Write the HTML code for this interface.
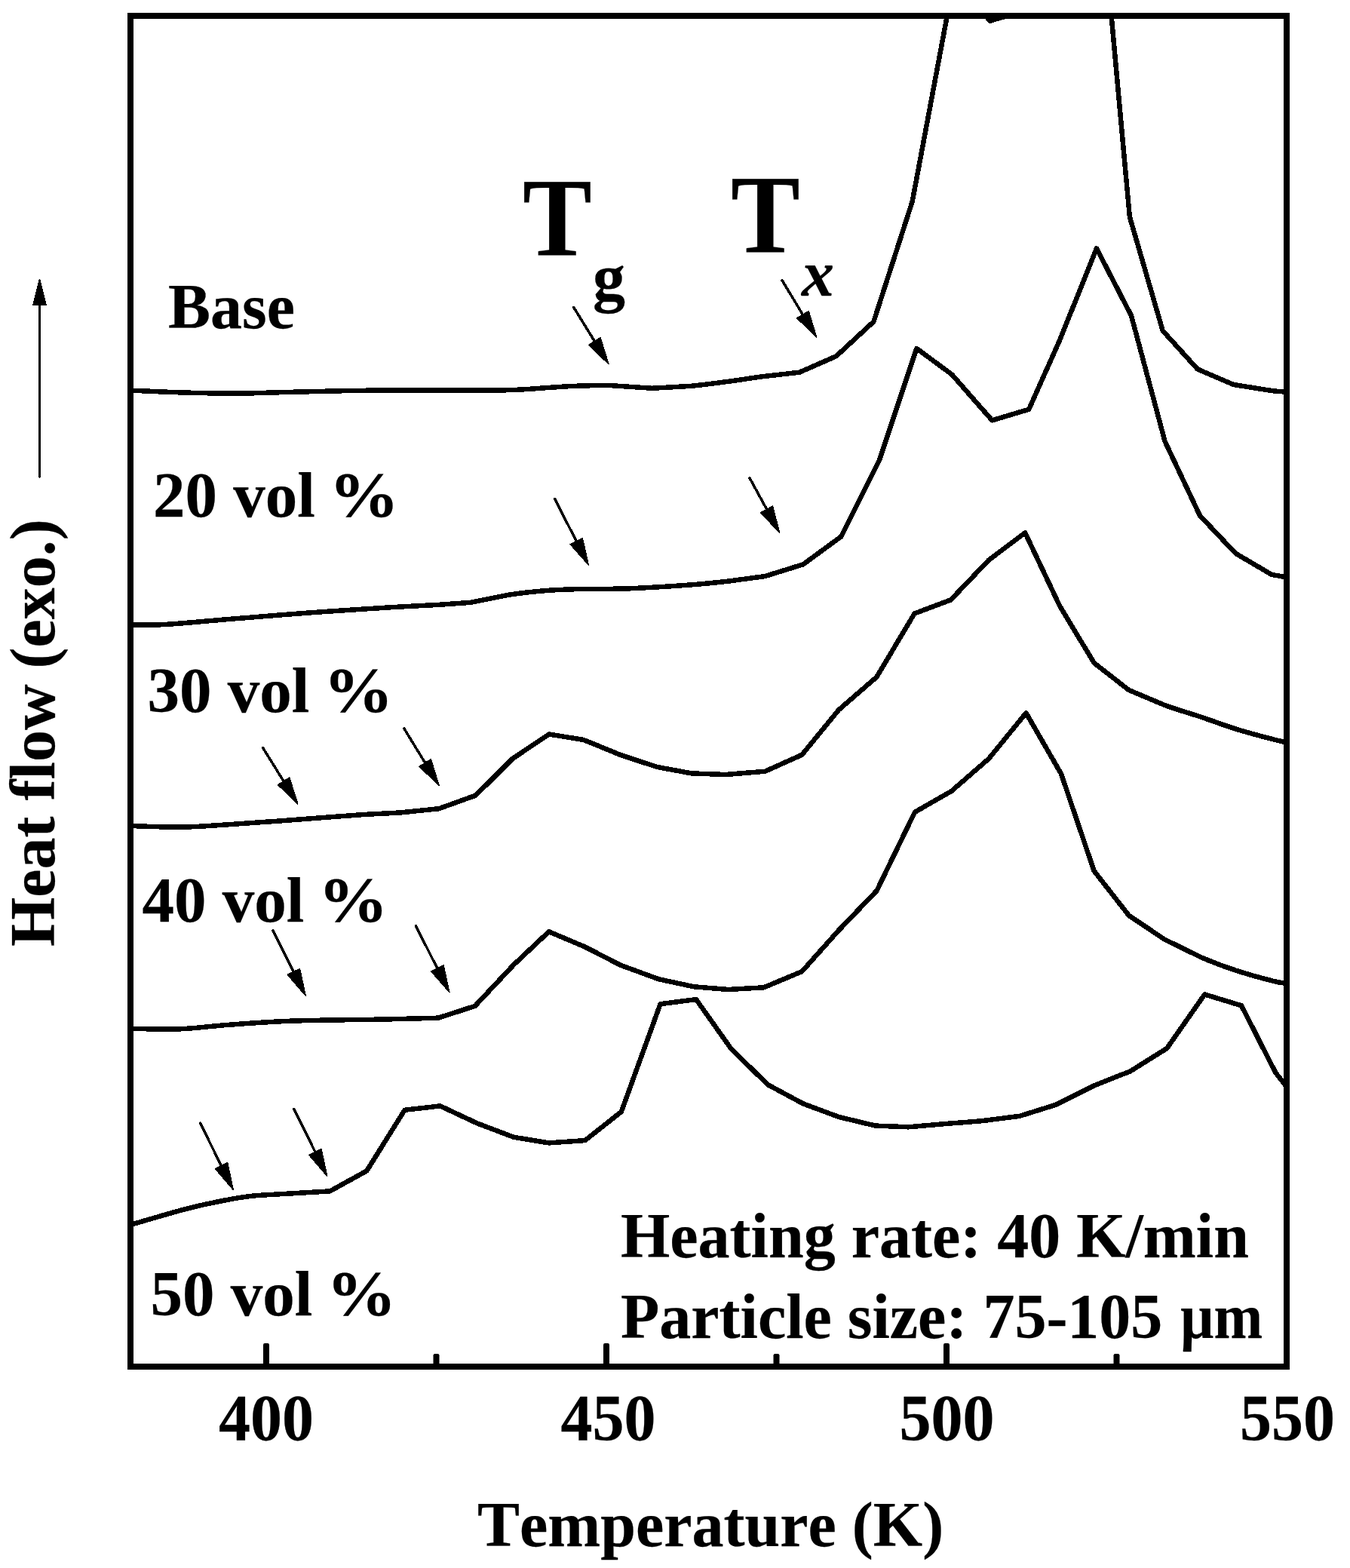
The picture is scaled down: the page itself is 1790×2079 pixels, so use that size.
<!DOCTYPE html>
<html lang="en">
<head>
<meta charset="utf-8">
<title>Heat flow (exo.) vs Temperature (K)</title>
<style>
html,body{margin:0;padding:0;background:#fff;}
body{width:1790px;height:2079px;overflow:hidden;}
svg{display:block;}
text{font-family:"Liberation Serif","DejaVu Serif",serif;font-weight:bold;fill:#000;font-kerning:none;font-variant-ligatures:none;stroke:#000;stroke-width:0.25px;stroke-linejoin:round;}
.curves path{shape-rendering:crispEdges;fill:none;stroke:#000;stroke-width:6.5;stroke-linejoin:round;stroke-linecap:butt;}
.arrows,.yarrow{shape-rendering:crispEdges;}
.arrows polygon,.yarrow polygon{fill:#000;stroke:#000;}
.arrows line,.yarrow line{stroke:#000;}
</style>
</head>
<body>
<svg width="1790" height="2079" viewBox="0 0 1790 2079">
<rect x="0" y="0" width="1790" height="2079" fill="#fff"/>
<defs><clipPath id="plot"><rect x="173" y="21" width="1533" height="1791"/></clipPath></defs>
<g class="curves" clip-path="url(#plot)">
<path id="curve-base" d="M173.0,517.6 C183.7,518.0 214.0,519.6 237.0,520.3 C260.0,521.0 288.5,521.7 311.0,521.7 C333.5,521.7 347.2,520.8 372.0,520.2 C396.8,519.6 437.7,518.5 460.0,518.1 C482.3,517.7 485.5,517.7 506.0,517.6 C526.5,517.5 554.9,517.5 583.0,517.4 C611.1,517.3 650.5,517.8 674.5,517.2 C698.5,516.6 712.7,514.9 727.0,514.0 C741.3,513.1 746.5,512.4 760.5,511.9 C774.5,511.4 793.6,510.7 811.0,511.2 L864.8,514.8 L915.3,511.9 C932.1,510.4 949.5,507.9 965.7,505.8 C982.0,503.7 997.1,501.0 1012.8,499.0 L1060.0,493.7 L1108.7,472.3 L1158.4,426.5 L1209.6,267.4 L1266.0,-33.0 L1312.4,27.8 L1361.0,13.5 L1451.6,-220.0 L1497.9,287.6 L1541.7,438.5 L1587.9,489.5 L1635.7,510.0 L1686.0,518.0 C1697.7,519.6 1702.7,519.3 1706.0,519.6"/>
<path id="curve-c20" d="M173.0,828.6 C180.9,828.5 198.6,829.2 220.5,827.9 C242.4,826.6 273.7,823.4 304.5,820.9 C335.3,818.4 371.9,815.3 405.5,812.8 C439.1,810.3 476.7,807.9 506.4,806.0 C536.1,804.1 564.1,802.9 583.7,801.7 L624.0,798.8 L674.5,788.7 C691.3,786.1 709.1,784.3 725.0,783.0 C740.9,781.7 751.8,781.5 770.0,781.0 C788.2,780.5 809.7,781.3 834.5,780.3 C859.3,779.3 896.2,776.9 918.6,775.2 C941.0,773.5 953.0,772.1 969.0,770.2 L1014.5,764.0 L1065.0,748.3 L1115.4,711.3 L1165.9,610.4 L1215.4,462.0 L1262.3,496.7 L1315.5,557.4 L1364.2,542.8 L1405.3,450.6 L1454.0,329.4 L1500.0,418.5 L1544.6,585.2 L1591.0,683.7 L1638.4,733.8 L1686.0,761.8 L1706.0,765.5"/>
<path id="curve-c30" d="M173.0,1095.0 C183.7,1095.3 218.2,1096.8 237.3,1096.7 C256.4,1096.6 265.3,1095.7 287.7,1094.3 C310.1,1092.9 341.0,1090.7 371.8,1088.4 C402.6,1086.1 445.8,1082.6 472.7,1080.7 C499.6,1078.8 515.1,1078.6 533.3,1077.2 L582.0,1072.2 L630.8,1054.6 L679.6,1005.9 L728.1,973.5 L774.0,981.0 L822.8,1001.0 L871.5,1017.0 L917.0,1025.4 L962.4,1027.0 L1014.5,1022.7 L1063.3,1000.8 L1112.0,941.3 L1162.5,897.5 L1212.5,813.5 L1260.6,795.4 L1311.0,742.6 L1359.2,706.3 L1405.3,803.8 L1450.7,879.0 L1496.8,915.0 L1544.9,935.2 C1560.8,941.1 1576.2,945.2 1592.0,950.5 C1607.8,955.8 1624.2,962.1 1640.0,967.0 C1655.8,971.9 1676.0,977.1 1687.0,980.0 C1698.0,982.9 1702.8,983.8 1706.0,984.5"/>
<path id="curve-c40" d="M173.0,1363.8 C183.7,1363.9 215.4,1365.2 237.3,1364.4 C259.2,1363.6 279.3,1360.5 304.5,1358.7 C329.7,1356.9 355.0,1354.8 388.6,1353.6 C422.2,1352.4 474.3,1352.2 506.4,1351.6 L581.0,1349.7 L629.8,1333.9 L681.3,1279.0 L727.8,1235.3 L775.7,1255.5 L822.8,1279.7 L873.2,1298.2 L920.3,1308.3 L965.7,1312.0 L1012.8,1309.3 L1063.3,1288.1 L1112.0,1233.6 L1162.5,1181.0 L1213.0,1076.8 L1261.5,1049.0 L1311.1,1005.9 L1360.5,945.3 L1407.0,1026.0 L1450.7,1154.9 L1496.8,1213.8 L1544.0,1245.5 L1592.0,1269.0 C1607.8,1275.9 1623.0,1281.5 1639.0,1286.8 C1655.0,1292.1 1676.6,1297.8 1687.8,1300.7 C1699.0,1303.6 1703.0,1303.4 1706.0,1303.9"/>
<path id="curve-c50" d="M173.0,1624.0 C184.8,1620.6 224.3,1608.8 244.0,1603.6 C263.7,1598.4 274.8,1596.0 291.0,1592.9 C307.2,1589.8 317.1,1587.2 341.5,1585.0 L437.4,1579.4 L486.2,1552.5 L536.6,1471.8 L583.7,1466.4 L632.5,1489.3 L681.3,1507.8 L727.7,1515.4 L775.7,1512.1 L823.8,1474.1 L875.6,1331.2 L923.0,1325.1 L969.0,1390.0 L1017.9,1438.1 L1065.0,1463.4 L1112.0,1480.9 L1160.8,1492.6 L1204.5,1494.3 L1254.0,1490.0 C1270.7,1488.6 1288.1,1487.6 1304.4,1485.9 L1352.0,1479.8 L1400.2,1464.7 L1450.7,1439.5 L1498.8,1420.3 L1547.2,1390.0 L1597.3,1318.5 L1646.0,1333.3 L1691.2,1422.0 L1706.0,1441.0"/>
</g>
<g class="ticks" fill="#000">
<rect x="349" y="1781" width="8" height="30" rx="2.2"/>
<rect x="800" y="1781" width="8" height="30" rx="2.2"/>
<rect x="1251" y="1781" width="8" height="30" rx="2.2"/>
<rect x="574.5" y="1795" width="8" height="16" rx="2.2"/>
<rect x="1025.5" y="1795" width="8" height="16" rx="2.2"/>
<rect x="1476.5" y="1795" width="8" height="16" rx="2.2"/>
</g>
<rect class="frame" x="173" y="21" width="1533" height="1791" fill="none" stroke="#000" stroke-width="8.0"/>
<g class="arrows">
<line x1="760.7" y1="407.5" x2="788.4" y2="452.5" stroke-width="3.5" stroke-linecap="round"/><polygon points="807.0,482.8 780.6,457.3 796.1,447.7" stroke-width="1.4" stroke-linejoin="round"/>
<line x1="1036.9" y1="371.5" x2="1064.4" y2="417.1" stroke-width="3.5" stroke-linecap="round"/><polygon points="1082.8,447.5 1056.7,421.8 1072.2,412.3" stroke-width="1.4" stroke-linejoin="round"/>
<line x1="735.6" y1="661.5" x2="764.2" y2="717.5" stroke-width="3.5" stroke-linecap="round"/><polygon points="780.4,749.2 756.1,721.7 772.3,713.4" stroke-width="1.4" stroke-linejoin="round"/>
<line x1="993.9" y1="633.6" x2="1016.6" y2="675.3" stroke-width="3.5" stroke-linecap="round"/><polygon points="1033.6,706.5 1008.6,679.7 1024.6,671.0" stroke-width="1.4" stroke-linejoin="round"/>
<line x1="348.6" y1="991.6" x2="376.1" y2="1035.8" stroke-width="3.5" stroke-linecap="round"/><polygon points="394.9,1066.0 368.4,1040.6 383.8,1031.0" stroke-width="1.4" stroke-linejoin="round"/>
<line x1="535.9" y1="966.1" x2="563.7" y2="1011.5" stroke-width="3.5" stroke-linecap="round"/><polygon points="582.2,1041.8 555.9,1016.2 571.4,1006.7" stroke-width="1.4" stroke-linejoin="round"/>
<line x1="362.0" y1="1233.6" x2="389.3" y2="1288.4" stroke-width="3.5" stroke-linecap="round"/><polygon points="405.2,1320.2 381.2,1292.4 397.5,1284.3" stroke-width="1.4" stroke-linejoin="round"/>
<line x1="551.4" y1="1227.6" x2="579.8" y2="1283.9" stroke-width="3.5" stroke-linecap="round"/><polygon points="595.9,1315.6 571.7,1288.0 588.0,1279.8" stroke-width="1.4" stroke-linejoin="round"/>
<line x1="265.5" y1="1489.2" x2="293.5" y2="1545.7" stroke-width="3.5" stroke-linecap="round"/><polygon points="309.3,1577.6 285.4,1549.8 301.7,1541.7" stroke-width="1.4" stroke-linejoin="round"/>
<line x1="389.9" y1="1470.6" x2="418.0" y2="1527.5" stroke-width="3.5" stroke-linecap="round"/><polygon points="433.7,1559.4 409.8,1531.5 426.1,1523.5" stroke-width="1.4" stroke-linejoin="round"/>
</g>
<g class="yarrow"><line x1="52.5" y1="632.5" x2="52.5" y2="404.6" stroke-width="2.6" stroke-linecap="round"/><polygon points="52.5,370.4 61.1,404.6 43.9,404.6" stroke-width="1.5" stroke-linejoin="round"/></g>
<text id="lbl-base" x="223" y="434.5" font-size="84" >Base</text>
<text id="lbl-20" x="203" y="685" font-size="85" >20 vol <tspan dx="-3" textLength="93" lengthAdjust="spacingAndGlyphs">%</tspan></text>
<text id="lbl-30" x="195.5" y="944" font-size="85" >30 vol <tspan dx="-3" textLength="93" lengthAdjust="spacingAndGlyphs">%</tspan></text>
<text id="lbl-40" x="188.5" y="1222" font-size="85" >40 vol <tspan dx="-3" textLength="93" lengthAdjust="spacingAndGlyphs">%</tspan></text>
<text id="lbl-50" x="199.5" y="1743.5" font-size="85" >50 vol <tspan dx="-3" textLength="93" lengthAdjust="spacingAndGlyphs">%</tspan></text>
<text id="note-rate" x="823" y="1666.5" font-size="84" >Heating rate: 40 K/min</text>
<text id="note-size" x="823" y="1774" font-size="84" >Particle size: 75-105 <tspan dx="3" textLength="108.7" lengthAdjust="spacingAndGlyphs">μm</tspan></text>
<text id="tick-400" transform="translate(290,1909) scale(1,1.04)" font-size="84" >400</text>
<text id="tick-450" transform="translate(743.5,1909) scale(1,1.04)" font-size="84" >450</text>
<text id="tick-500" transform="translate(1192.5,1909) scale(1,1.04)" font-size="84" >500</text>
<text id="tick-550" transform="translate(1644,1909) scale(1,1.04)" font-size="84" >550</text>
<text id="xlabel" x="633" y="2050" font-size="84" >Temperature (K)</text>
<text id="Tg-T" transform="translate(693,339.4) scale(0.93,1)" font-size="148" >T</text>
<text id="Tg-g" x="786" y="397" font-size="86" >g</text>
<text id="Tx-T" transform="translate(969,335.4) scale(0.93,1)" font-size="148" >T</text>
<text id="Tx-x" x="1063" y="392.4" font-size="86" font-style="italic">x</text>
<text id="ylabel" transform="translate(72.4,1255) rotate(-90)" font-size="84">Heat flow (exo.)</text>
</svg>
</body>
</html>
